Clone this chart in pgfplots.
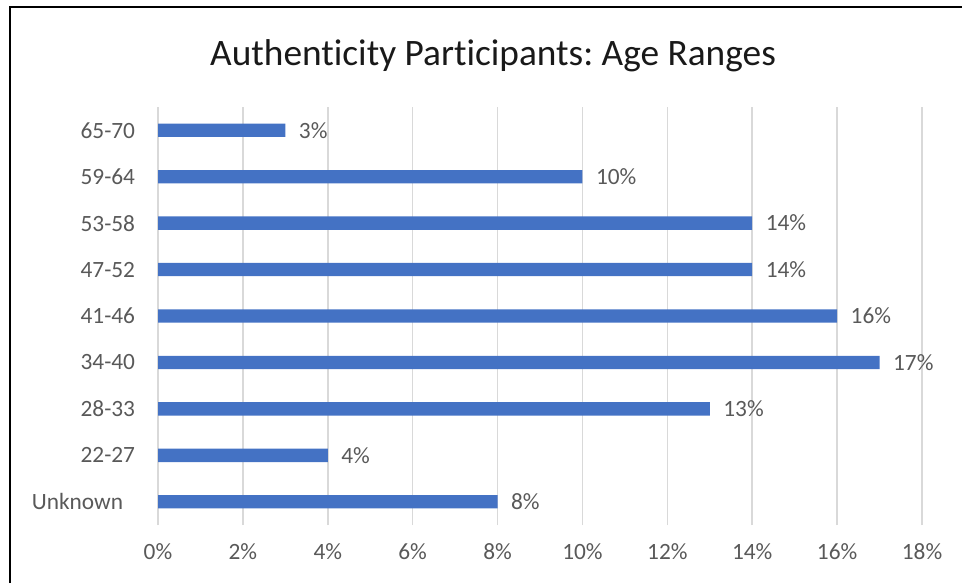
\documentclass[border=0pt]{standalone}
\usepackage{pgfplots}
\pgfplotsset{compat=1.18}
\usepackage{fontspec}
\setmainfont{Carlito}[Ligatures=NoCommon]
\frenchspacing
\definecolor{barblue}{HTML}{4472C4}
\definecolor{txtgray}{HTML}{595959}
\definecolor{gridgray}{HTML}{D9D9D9}
\begin{document}
\begin{tikzpicture}[x=0.75pt,y=0.75pt]
\useasboundingbox (0,0) rectangle (962,583);
% frame of the chart area (only top and left edges are visible)
\draw[line width=1.5pt] (10,0) -- (10,576) -- (962,576);
\node[font=\fontsize{28}{33}\selectfont, text=black!90] at (493,527) {Authenticity Participants: Age Ranges};
\begin{axis}[
    at={(118.5pt,43.5pt)}, anchor=south west,
    scale only axis, width=573pt, height=313.5pt,
    xbar, bar width=10pt,
    xmin=0, xmax=18, ymin=-0.5, ymax=8.5,
    xtick={0,2,...,18},
    xticklabel={\pgfmathprintnumber{\tick}\%},
    ytick={0,...,8},
    yticklabels={Unknown\rule{9pt}{0pt},22-27,28-33,34-40,41-46,47-52,53-58,59-64,65-70},
    /pgf/number format/assume math mode=true,
    axis line style={draw=none},
    major tick length=0pt,
    xmajorgrids, grid style={gridgray, line width=1.2pt},
    tick label style={font=\fontsize{17.5}{21}\selectfont, text=txtgray, inner sep=0pt},
    xticklabel style={anchor=center, yshift=-20pt},
    yticklabel style={anchor=east, xshift=-17pt},
    nodes near coords={\pgfmathprintnumber{\pgfplotspointmeta}\%},
    nodes near coords style={font=\fontsize{17.5}{21}\selectfont, text=txtgray, anchor=west, inner sep=0pt, xshift=10pt},
]
\addplot[fill=barblue, draw=none] coordinates {
    (8,0) (4,1) (13,2) (17,3) (16,4) (14,5) (14,6) (10,7) (3,8)
};
\end{axis}
\end{tikzpicture}
\end{document}
